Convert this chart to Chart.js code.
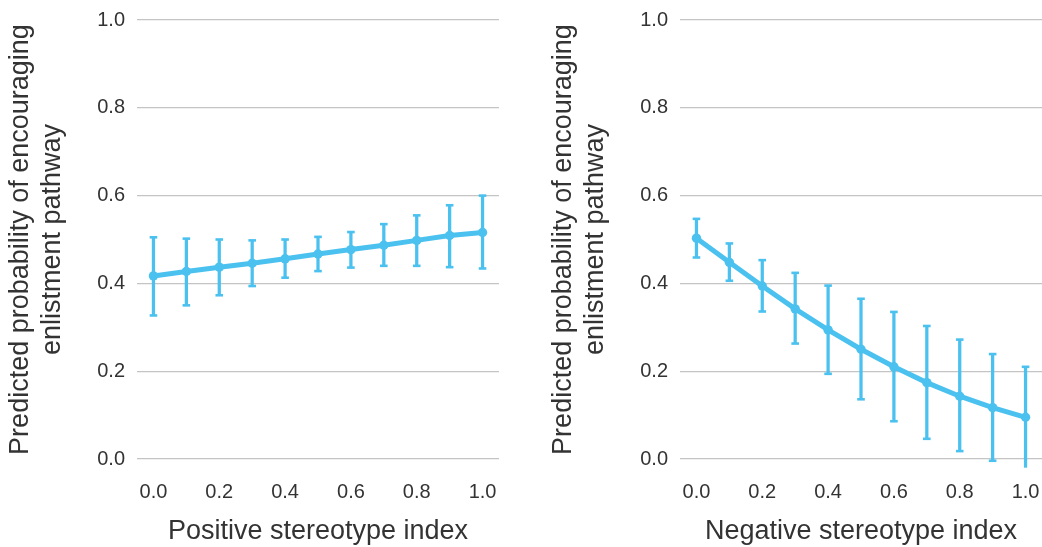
<!DOCTYPE html>
<html>
<head>
<meta charset="utf-8">
<script src="https://cdn.jsdelivr.net/npm/chart.js@4.4.1/dist/chart.umd.min.js"></script>
<style>
  html, body { margin: 0; padding: 0; background: #ffffff; overflow: hidden; }
  .wrap { position: absolute; top: 0; width: 521px; height: 547px; }
  #w1 { left: 0; }
  #w2 { left: 521px; }
</style>
</head>
<body>
<div class="wrap" id="w1"><canvas id="c1" width="521" height="547"></canvas></div>
<div class="wrap" id="w2"><canvas id="c2" width="521" height="547"></canvas></div>
<script>
// ---- data ----
const categories = ['0.0','0.1','0.2','0.3','0.4','0.5','0.6','0.7','0.8','0.9','1.0'];
const yTickValues = [0.0, 0.2, 0.4, 0.6, 0.8, 1.0];

const posMean = [0.417, 0.427, 0.437, 0.446, 0.456, 0.467, 0.477, 0.487, 0.498, 0.509, 0.516];
const posLow  = [0.327, 0.350, 0.373, 0.394, 0.413, 0.428, 0.436, 0.440, 0.440, 0.437, 0.434];
const posHigh = [0.505, 0.502, 0.500, 0.498, 0.500, 0.506, 0.517, 0.535, 0.555, 0.578, 0.600];

const negMean = [0.503, 0.448, 0.394, 0.342, 0.294, 0.250, 0.210, 0.174, 0.143, 0.117, 0.095];
const negLow  = [0.459, 0.406, 0.336, 0.263, 0.194, 0.136, 0.086, 0.046, 0.018, -0.004, -0.019];
const negHigh = [0.547, 0.491, 0.453, 0.424, 0.395, 0.365, 0.335, 0.303, 0.272, 0.239, 0.210];

const yTitle = ['Predicted probability of encouraging', 'enlistment pathway'];
const xTitles = ['Positive stereotype index', 'Negative stereotype index'];

// ---- styles ----
const BLUE = '#4bc1ef';
const TEXT = '#333333';
const GRID = '#c4c4c4';
const FONT = "'Liberation Sans', Arial, Helvetica, sans-serif";

function makeChart(canvasId, mean, low, high, xTitle, padLeft, padRight) {
  const ranges = low.map((l, i) => [l, high[i]]);
  const capSet = (vals) => ({
    type: 'line',
    data: vals,
    showLine: false,
    pointStyle: 'line',
    pointRadius: 3.8,
    pointBorderWidth: 2.6,
    pointBorderColor: BLUE,
    pointBackgroundColor: BLUE,
    clip: false,
    order: 2
  });
  return new Chart(document.getElementById(canvasId), {
    data: {
      labels: categories,
      datasets: [
        {
          type: 'bar',
          data: ranges,
          backgroundColor: BLUE,
          borderWidth: 0,
          barThickness: 2.6,
          clip: false,
          order: 3
        },
        capSet(low),
        capSet(high),
        {
          type: 'line',
          data: mean,
          borderColor: BLUE,
          borderWidth: 5,
          pointRadius: 4.7,
          pointBackgroundColor: BLUE,
          pointBorderWidth: 0,
          tension: 0,
          clip: false,
          order: 1
        }
      ]
    },
    options: {
      responsive: false,
      animation: false,
      layout: { autoPadding: false, padding: { left: padLeft, right: padRight, top: 20, bottom: 0 } },
      plugins: { legend: { display: false }, tooltip: { enabled: false } },
      scales: {
        x: {
          type: 'category',
          offset: true,
          grid: { display: false, drawTicks: false },
          border: { display: false },
          ticks: {
            autoSkip: false,
            maxRotation: 0,
            padding: 21,
            color: TEXT,
            font: { family: FONT, size: 20 },
            callback: function (v, i) { return i % 2 === 0 ? categories[i] : ''; }
          },
          title: {
            display: true,
            text: xTitle,
            color: TEXT,
            font: { family: FONT, size: 27, lineHeight: 1.17 },
            padding: { top: 0, bottom: 0 }
          },
          afterFit: function (s) { s.height = 88; s.paddingLeft = 0; s.paddingRight = 0; }
        },
        y: {
          min: 0,
          max: 1,
          afterBuildTicks: function (s) { s.ticks = yTickValues.map(v => ({ value: v })); },
          grid: { color: GRID, lineWidth: 1.3, drawTicks: false },
          border: { display: false },
          ticks: {
            padding: 12,
            color: TEXT,
            font: { family: FONT, size: 20 },
            callback: function (v) { return Number(v).toFixed(1); }
          },
          title: {
            display: true,
            text: yTitle,
            color: TEXT,
            font: { family: FONT, size: 27, lineHeight: 1.17 },
            padding: { top: 5, bottom: 0 }
          },
          afterFit: function (s) { s.width = 137; s.paddingTop = 0; s.paddingBottom = 0; }
        }
      }
    }
  });
}

makeChart('c1', posMean, posLow, posHigh, xTitles[0], 0, 22);
makeChart('c2', negMean, negLow, negHigh, xTitles[1], 22, 0);
</script>
</body>
</html>
